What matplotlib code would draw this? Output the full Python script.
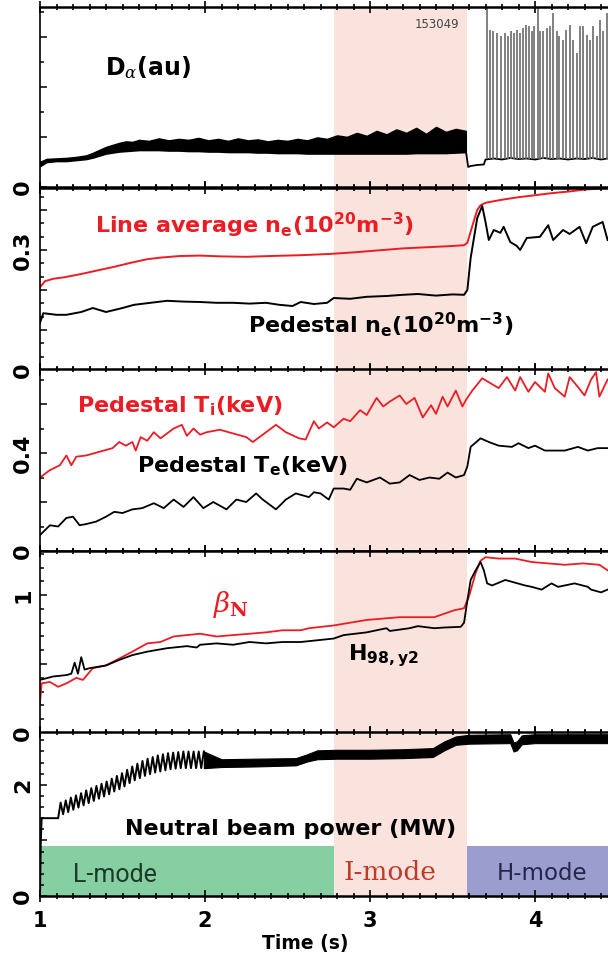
import matplotlib
matplotlib.use('Agg')
import matplotlib.pyplot as plt
from matplotlib.ticker import MultipleLocator, FuncFormatter

# ---- data (shot 153049) ----
t_lo, t_hi = 2.78, 3.59          # I-mode window

# D-alpha (au): L/I-mode band, short quiet phase, then ELMs
da_t = [1.00, 1.04, 1.10, 1.16, 1.22, 1.28, 1.32, 1.36, 1.40, 1.44,
        1.48, 1.52, 1.56, 1.60, 1.66, 1.72, 1.78, 1.84, 1.90, 1.96,
        2.02, 2.08, 2.14, 2.20, 2.26, 2.32, 2.38, 2.44, 2.50, 2.56,
        2.62, 2.68, 2.74, 2.80, 2.86, 2.92, 2.98, 3.04, 3.10, 3.16,
        3.22, 3.28, 3.34, 3.40, 3.46, 3.52, 3.58]
da_lo = [0.42, 0.50, 0.52, 0.52, 0.54, 0.56, 0.59, 0.63, 0.67, 0.69,
         0.71, 0.72, 0.73, 0.74, 0.74, 0.74, 0.73, 0.73, 0.72, 0.72,
         0.71, 0.71, 0.70, 0.70, 0.70, 0.69, 0.69, 0.68, 0.68, 0.68,
         0.67, 0.67, 0.67, 0.67, 0.67, 0.67, 0.67, 0.67, 0.67, 0.67,
         0.67, 0.68, 0.68, 0.68, 0.68, 0.69, 0.70]
da_hi = [0.50, 0.56, 0.57, 0.58, 0.60, 0.63, 0.68, 0.74, 0.80, 0.84,
         0.88, 0.91, 0.90, 0.94, 0.92, 0.97, 0.93, 0.96, 0.94, 0.98,
         0.93, 0.96, 0.92, 0.97, 0.93, 0.95, 0.91, 0.94, 0.92, 0.96,
         0.93, 0.99, 0.96, 1.03, 1.00, 1.08, 1.02, 1.12, 1.05, 1.15,
         1.08, 1.18, 1.06, 1.20, 1.10, 1.16, 1.12]
dq_t = [3.58, 3.595, 3.61, 3.65, 3.69, 3.70, 3.75, 3.80, 3.85, 3.90, 3.95,
        4.00, 4.05, 4.10, 4.15, 4.20, 4.25, 4.30, 4.35, 4.40, 4.44]
dq_v = [0.75, 0.40, 0.42, 0.44, 0.45, 0.55, 0.57, 0.55, 0.58, 0.56, 0.57,
        0.55, 0.58, 0.56, 0.57, 0.55, 0.57, 0.56, 0.58, 0.55, 0.57]
elm_t = [3.707, 3.727, 3.747, 3.772, 3.794, 3.818, 3.838, 3.855, 3.873, 3.893,
         3.909, 3.929, 3.945, 3.964, 3.980, 3.996, 4.016, 4.030, 4.051, 4.071,
         4.091, 4.111, 4.131, 4.147, 4.168, 4.188, 4.212, 4.228, 4.253, 4.273,
         4.293, 4.313, 4.333, 4.353, 4.374, 4.394, 4.414, 4.434]
elm_pk = [3.60, 3.14, 3.11, 3.07, 3.01, 3.07, 3.01, 3.11, 3.07, 3.14,
          3.07, 3.17, 3.24, 3.21, 3.11, 3.21, 3.57, 3.11, 3.11, 3.17,
          3.21, 3.47, 3.11, 3.01, 2.94, 3.14, 3.24, 2.94, 2.67, 3.21,
          3.21, 3.04, 2.94, 3.21, 3.01, 3.34, 3.11, 3.47]

# line average and pedestal density (1e20 m^-3)
nl_t = [1.00, 1.03, 1.08, 1.15, 1.25, 1.36, 1.45, 1.55, 1.65, 1.73, 1.85, 1.97,
        2.10, 2.25, 2.40, 2.58, 2.75, 2.90, 3.05, 3.20, 3.35, 3.50, 3.57, 3.59,
        3.62, 3.65, 3.67, 3.70, 3.79, 3.90, 4.00, 4.10, 4.20, 4.30, 4.44]
nl_v = [0.207, 0.222, 0.228, 0.232, 0.240, 0.250, 0.258, 0.268, 0.277, 0.281,
        0.285, 0.286, 0.284, 0.283, 0.285, 0.287, 0.290, 0.294, 0.299, 0.304,
        0.307, 0.310, 0.312, 0.318, 0.360, 0.400, 0.412, 0.418, 0.425, 0.432,
        0.437, 0.442, 0.446, 0.451, 0.455]
np_t = [1.00, 1.02, 1.10, 1.16, 1.25, 1.32, 1.40, 1.50, 1.57, 1.67, 1.77, 1.87,
        1.97, 2.07, 2.17, 2.27, 2.37, 2.45, 2.53, 2.58, 2.66, 2.74, 2.78, 2.88,
        2.98, 3.10, 3.20, 3.29, 3.40, 3.50, 3.57, 3.59, 3.61, 3.65, 3.68, 3.70,
        3.72, 3.75, 3.79, 3.81, 3.85, 3.89, 3.91, 3.95, 4.03, 4.08, 4.11, 4.17,
        4.21, 4.27, 4.31, 4.35, 4.41, 4.44]
np_v = [0.118, 0.142, 0.138, 0.138, 0.145, 0.155, 0.145, 0.155, 0.163, 0.168,
        0.173, 0.171, 0.170, 0.168, 0.168, 0.166, 0.168, 0.163, 0.160, 0.170,
        0.165, 0.168, 0.180, 0.178, 0.183, 0.185, 0.188, 0.190, 0.186, 0.189,
        0.188, 0.200, 0.280, 0.380, 0.410, 0.370, 0.325, 0.350, 0.343, 0.358,
        0.320, 0.310, 0.300, 0.330, 0.333, 0.362, 0.325, 0.350, 0.340, 0.358,
        0.317, 0.358, 0.370, 0.325]

# pedestal temperatures (keV)
ti_t = [1.00, 1.06, 1.12, 1.16, 1.19, 1.22, 1.28, 1.36, 1.44, 1.48, 1.52, 1.56,
        1.58, 1.61, 1.65, 1.69, 1.73, 1.77, 1.81, 1.86, 1.89, 1.93, 1.97, 2.01,
        2.09, 2.17, 2.25, 2.29, 2.37, 2.43, 2.49, 2.57, 2.61, 2.66, 2.69, 2.74,
        2.78, 2.84, 2.88, 2.94, 2.98, 3.04, 3.08, 3.12, 3.18, 3.22, 3.27, 3.32,
        3.37, 3.40, 3.44, 3.47, 3.52, 3.56, 3.58, 3.62, 3.68, 3.73, 3.78, 3.83,
        3.88, 3.91, 3.96, 4.00, 4.06, 4.08, 4.12, 4.18, 4.21, 4.26, 4.30, 4.34,
        4.37, 4.39, 4.44]
ti_v = [0.300, 0.330, 0.350, 0.390, 0.350, 0.385, 0.390, 0.405, 0.420, 0.445,
        0.430, 0.445, 0.410, 0.465, 0.450, 0.485, 0.460, 0.480, 0.500, 0.515,
        0.470, 0.500, 0.475, 0.485, 0.495, 0.480, 0.465, 0.445, 0.485, 0.515,
        0.485, 0.460, 0.455, 0.530, 0.500, 0.525, 0.505, 0.540, 0.530, 0.575,
        0.555, 0.625, 0.590, 0.610, 0.635, 0.600, 0.625, 0.545, 0.595, 0.560,
        0.630, 0.590, 0.655, 0.590, 0.615, 0.655, 0.705, 0.685, 0.665, 0.710,
        0.655, 0.710, 0.650, 0.690, 0.650, 0.725, 0.665, 0.630, 0.710, 0.670,
        0.635, 0.700, 0.730, 0.630, 0.700]
te_t = [1.00, 1.06, 1.11, 1.16, 1.20, 1.24, 1.28, 1.34, 1.40, 1.45, 1.50, 1.56,
        1.62, 1.69, 1.75, 1.81, 1.87, 1.93, 1.99, 2.05, 2.13, 2.19, 2.25, 2.31,
        2.35, 2.43, 2.49, 2.55, 2.63, 2.66, 2.70, 2.75, 2.78, 2.84, 2.88, 2.92,
        2.98, 3.06, 3.12, 3.18, 3.24, 3.30, 3.36, 3.42, 3.47, 3.52, 3.57, 3.59,
        3.61, 3.67, 3.72, 3.78, 3.86, 3.90, 3.96, 4.00, 4.06, 4.18, 4.26, 4.32,
        4.38, 4.44]
te_v = [0.065, 0.105, 0.100, 0.135, 0.140, 0.105, 0.110, 0.120, 0.140, 0.160,
        0.155, 0.170, 0.175, 0.195, 0.175, 0.210, 0.180, 0.220, 0.175, 0.200,
        0.170, 0.210, 0.200, 0.235, 0.210, 0.170, 0.210, 0.235, 0.220, 0.240,
        0.235, 0.210, 0.255, 0.255, 0.250, 0.295, 0.280, 0.300, 0.275, 0.280,
        0.310, 0.290, 0.300, 0.295, 0.320, 0.300, 0.310, 0.345, 0.425, 0.460,
        0.445, 0.430, 0.425, 0.440, 0.420, 0.430, 0.410, 0.410, 0.425, 0.410,
        0.420, 0.420]

# normalised beta and confinement factor
bn_t = [1.00, 1.01, 1.06, 1.11, 1.16, 1.22, 1.26, 1.32, 1.40, 1.48, 1.56, 1.65,
        1.73, 1.81, 1.89, 1.97, 2.07, 2.17, 2.27, 2.37, 2.47, 2.58, 2.63, 2.78,
        2.98, 3.18, 3.39, 3.51, 3.57, 3.60, 3.64, 3.67, 3.70, 3.78, 3.88, 3.98,
        4.08, 4.18, 4.29, 4.39, 4.44]
bn_v = [0.22, 0.36, 0.37, 0.335, 0.36, 0.40, 0.385, 0.47, 0.49, 0.54, 0.59, 0.65,
        0.66, 0.70, 0.71, 0.72, 0.70, 0.71, 0.72, 0.73, 0.745, 0.745, 0.76, 0.78,
        0.82, 0.84, 0.84, 0.89, 0.905, 0.99, 1.16, 1.25, 1.275, 1.265, 1.265, 1.24,
        1.23, 1.22, 1.23, 1.22, 1.18]
h98_t = [1.00, 1.08, 1.16, 1.19, 1.21, 1.23, 1.25, 1.27, 1.30, 1.40, 1.48, 1.56,
         1.65, 1.77, 1.89, 1.95, 1.97, 2.07, 2.17, 2.27, 2.37, 2.47, 2.58, 2.70,
         2.78, 2.84, 2.98, 3.10, 3.12, 3.24, 3.29, 3.39, 3.45, 3.55, 3.57, 3.59,
         3.61, 3.64, 3.67, 3.69, 3.71, 3.74, 3.82, 3.94, 3.98, 4.04, 4.10, 4.14,
         4.24, 4.32, 4.34, 4.40, 4.44]
h98_v = [0.385, 0.41, 0.42, 0.43, 0.51, 0.43, 0.55, 0.46, 0.47, 0.49, 0.53, 0.565,
         0.59, 0.615, 0.63, 0.62, 0.64, 0.65, 0.64, 0.66, 0.65, 0.66, 0.66, 0.675,
         0.685, 0.71, 0.73, 0.76, 0.74, 0.76, 0.775, 0.76, 0.765, 0.77, 0.80, 0.96,
         1.11, 1.18, 1.24, 1.18, 1.085, 1.07, 1.11, 1.07, 1.06, 1.04, 1.085, 1.06,
         1.085, 1.06, 1.04, 1.02, 1.04]

# neutral beam power (MW): stepped zig-zag, then dense modulation band
pb_t = [1.000, 1.005, 1.010, 1.110, 1.125, 1.140, 1.156, 1.171, 1.187, 1.202,
        1.218, 1.233, 1.249, 1.264, 1.280, 1.295, 1.311, 1.326, 1.342, 1.357,
        1.373, 1.388, 1.404, 1.419, 1.435, 1.450, 1.466, 1.481, 1.497, 1.512,
        1.528, 1.543, 1.559, 1.574, 1.590, 1.605, 1.621, 1.636, 1.652, 1.667,
        1.683, 1.698, 1.714, 1.729, 1.745, 1.760, 1.776, 1.791, 1.807, 1.822,
        1.838, 1.853, 1.869, 1.884, 1.900, 1.915, 1.931, 1.946, 1.962, 1.977,
        1.993]
pb_v = [0.00, 1.00, 1.40, 1.40, 1.68, 1.47, 1.72, 1.51, 1.77, 1.55,
        1.81, 1.59, 1.85, 1.63, 1.90, 1.67, 1.94, 1.71, 1.98, 1.75,
        2.02, 1.79, 2.06, 1.83, 2.11, 1.88, 2.16, 1.92, 2.21, 1.97,
        2.27, 2.03, 2.33, 2.08, 2.38, 2.12, 2.43, 2.16, 2.47, 2.19,
        2.50, 2.22, 2.53, 2.24, 2.55, 2.26, 2.57, 2.28, 2.58, 2.29,
        2.59, 2.30, 2.60, 2.30, 2.60, 2.30, 2.60, 2.30, 2.60, 2.30,
        2.60]
pbb_t = [1.993, 2.10, 2.30, 2.55, 2.62, 2.68, 2.80, 3.00, 3.20, 3.38, 3.45,
         3.52, 3.60, 3.85, 3.87, 3.89, 3.92, 4.00, 4.44]
pbb_lo = [2.30, 2.32, 2.33, 2.35, 2.42, 2.46, 2.47, 2.47, 2.48, 2.50, 2.62,
          2.72, 2.74, 2.75, 2.60, 2.62, 2.73, 2.75, 2.75]
pbb_hi = [2.60, 2.46, 2.47, 2.48, 2.55, 2.62, 2.63, 2.63, 2.64, 2.66, 2.78,
          2.87, 2.90, 2.91, 2.76, 2.78, 2.89, 2.91, 2.91]

mode_names = ['L-mode', 'H-mode']
mode_start = [1.0, 3.59]
mode_end = [2.78, 4.44]
mode_height = 0.9

# ---- styling ----
W, H = 608, 966
red = '#ec1c24'
pink = '#f9e3dc'
green = '#86cfa2'
blue = '#9b9dcf'


def px(x, y):
    return x / W, 1 - y / H


fig = plt.figure(figsize=(W / 100, H / 100), dpi=100)
left = 40 / W
rows = [(7, 187), (188, 370), (369, 551), (551, 733), (732, 896)]
ylims = [3.6, 0.455, 0.743, 1.32, 2.95]
majors = [1.0, 0.1, 0.2, 0.5, 1.0]
minors = [0.5, 0.1 / 3, 0.1, 0.1, 0.2]
shown = [[0], [0, 0.3], [0, 0.4], [0, 1], [0, 2]]

axes = []
for i, (top, bot) in enumerate(rows):
    ax = fig.add_axes([left, 1 - bot / H, 1 - left, (bot - top) / H])
    ax.set_xlim(1, 1 + 568 / 165)
    ax.set_ylim(0, ylims[i])
    ax.axvspan(t_lo, t_hi, color=pink, lw=0, zorder=0)
    ax.spines['right'].set_visible(False)
    ax.spines['left'].set_linewidth(1.2)
    ax.spines['top'].set_linewidth(1.8)
    ax.spines['bottom'].set_linewidth(1.8)
    ax.xaxis.set_major_locator(MultipleLocator(1))
    ax.xaxis.set_minor_locator(MultipleLocator(0.1))
    ax.yaxis.set_major_locator(MultipleLocator(majors[i]))
    ax.yaxis.set_minor_locator(MultipleLocator(minors[i]))
    ax.tick_params(axis='x', which='both', direction='inout', top=True,
                   bottom=True, width=1.2, labelbottom=(i == 4))
    ax.tick_params(axis='x', which='major', length=9)
    ax.tick_params(axis='x', which='minor', length=5)
    ax.tick_params(axis='y', which='both', direction='in', width=1.1,
                   right=False)
    ax.tick_params(axis='y', which='major', length=5, pad=5,
                   labelrotation=90, labelsize=16)
    ax.tick_params(axis='y', which='minor', length=3)
    vals = shown[i]
    ax.yaxis.set_major_formatter(FuncFormatter(
        lambda v, p, vals=vals: next((f'{s:g}' for s in vals if abs(v - s) < 1e-6), '')))
    for lab in ax.get_yticklabels():
        lab.set_fontweight('bold')
        lab.set_va('center')
    axes.append(ax)

ax1, ax2, ax3, ax4, ax5 = axes

# D-alpha
ax1.fill_between(da_t, da_lo, da_hi, color='black', lw=1.2, zorder=2)
ax1.plot(dq_t, dq_v, color='black', lw=1.3, zorder=2)
ax1.vlines(elm_t, 0.56, elm_pk, color='0.42', lw=1.2, zorder=2)

# densities
ax2.plot(nl_t, nl_v, color=red, lw=1.4)
ax2.plot(np_t, np_v, color='black', lw=1.4)

# temperatures
ax3.plot(ti_t, ti_v, color=red, lw=1.3)
ax3.plot(te_t, te_v, color='black', lw=1.3)

# beta_N / H98
ax4.plot(bn_t, bn_v, color=red, lw=1.3)
ax4.plot(h98_t, h98_v, color='black', lw=1.3)

# beam power and confinement-mode bars
ax5.plot(pb_t, pb_v, color='black', lw=1.4)
ax5.fill_between(pbb_t, pbb_lo, pbb_hi, color='black', lw=0.8)
ax5.bar(mode_start, mode_height, width=[e - s for s, e in zip(mode_start, mode_end)],
        bottom=0, align='edge', color=[green, blue], lw=0, zorder=1)
ax5.set_xticks([1, 2, 3, 4])
ax5.set_xticklabels(['1', '2', '3', '4'], fontsize=15, fontweight='bold')
ax5.tick_params(axis='x', which='major', pad=6)
fig.text(*px(305, 943), 'Time (s)', ha='center', va='center',
         fontsize=13.5, fontweight='bold')

# annotations
fig.text(*px(437, 25), '153049', ha='center', va='center', fontsize=8.5,
         color='#444444')
fig.text(*px(105, 75), r'D$_\alpha$(au)', fontsize=17, fontweight='bold',
         math_fontfamily='dejavuserif')
fig.text(*px(95, 233), r'Line average n$_\mathregular{e}$(10$^\mathregular{20}$m$^\mathregular{-3}$)',
         fontsize=16, fontweight='bold', color=red)
fig.text(*px(248, 333), r'Pedestal n$_\mathregular{e}$(10$^\mathregular{20}$m$^\mathregular{-3}$)',
         fontsize=16, fontweight='bold', color='black')
fig.text(*px(77, 412), r'Pedestal T$_\mathregular{i}$(keV)',
         fontsize=16, fontweight='bold', color=red)
fig.text(*px(137, 472), r'Pedestal T$_\mathregular{e}$(keV)',
         fontsize=16, fontweight='bold', color='black')
fig.text(*px(213, 612), r'$\beta_\mathbf{N}$', fontsize=20, color=red,
         math_fontfamily='dejavuserif')
fig.text(*px(348, 660), r'H$_\mathregular{98,y2}$', fontsize=16,
         fontweight='bold', color='black')
fig.text(*px(125, 835), 'Neutral beam power (MW)', fontsize=16,
         fontweight='bold', color='black')
fig.text(*px(73, 882), 'L-mode', fontsize=18, family='Roboto', color='#1d3a28')
fig.text(*px(390, 880), 'I-mode', fontsize=19, family='DejaVu Serif',
         color='#c0392b', ha='center')
fig.text(*px(542, 880), 'H-mode', fontsize=16.5, family='DejaVu Sans',
         color='#26264a', ha='center')

fig.savefig('out.png', dpi=100)
